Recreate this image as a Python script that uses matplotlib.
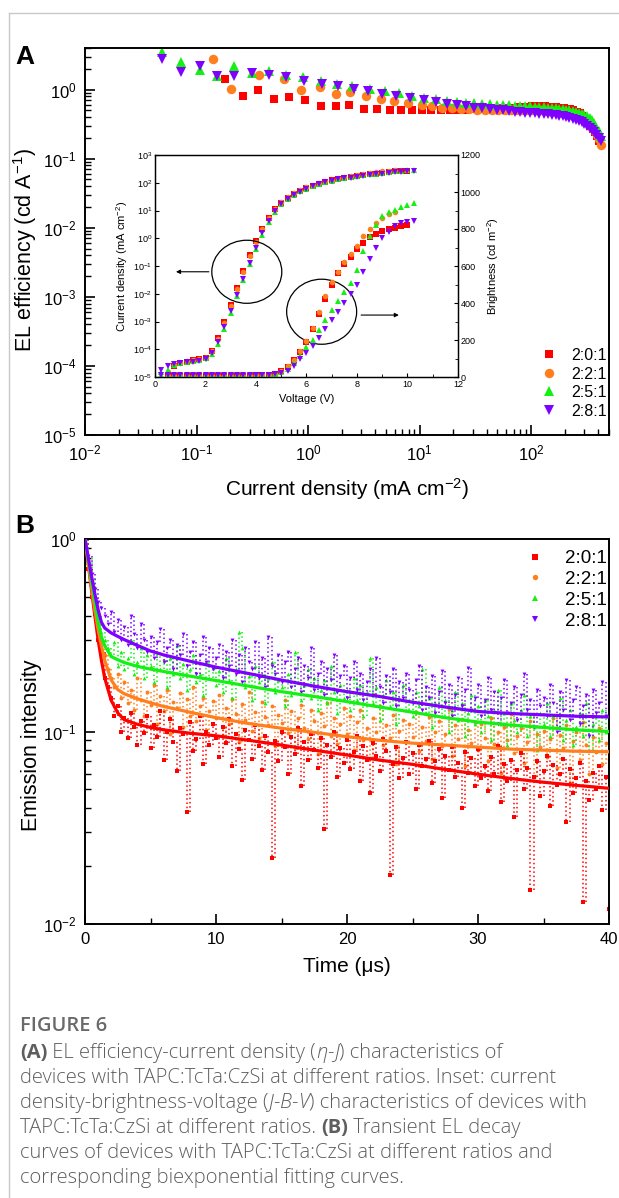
import numpy as np
import matplotlib
matplotlib.use("Agg")
import matplotlib.pyplot as plt
from matplotlib.patches import Ellipse
from matplotlib.lines import Line2D
from matplotlib.ticker import LogLocator, NullFormatter, MultipleLocator

plt.rcParams["font.family"] = ["Liberation Sans", "DejaVu Sans"]
plt.rcParams["mathtext.fontset"] = "custom"
plt.rcParams["mathtext.rm"] = "Liberation Sans"
plt.rcParams["mathtext.it"] = "Liberation Sans:italic"
plt.rcParams["mathtext.bf"] = "Liberation Sans:bold"

W, H = 619, 1198
RATIOS = ["2:0:1", "2:2:1", "2:5:1", "2:8:1"]
COLS = ["#ff0000", "#ff7f1e", "#14f014", "#7f00ff"]
MARKS = ["s", "o", "^", "v"]
MS_A = [6.0, 6.8, 7.6, 7.6]

# ---------------- (A) EL efficiency vs current density ----------------
eff_x_201 = [0.181, 0.259, 0.359, 0.497, 0.678, 0.94, 1.32, 1.78, 2.35, 3.16, 4.17, 5.46, 6.8, 8.55,
             10.5, 12.8, 15.5, 18.6, 22, 26, 30.5, 35.5, 41, 47, 53.5, 60.5, 68, 76, 84.5, 93.5, 103,
             113, 123, 134, 145, 157, 169, 182, 196, 210, 225, 240, 256, 272, 289, 306, 323, 340, 357,
             374, 390, 405]
eff_y_201 = [1.43, 0.80, 0.98, 0.73, 0.77, 0.70, 0.57, 0.57, 0.59, 0.525, 0.525, 0.51, 0.50, 0.50,
             0.50, 0.50, 0.505, 0.51, 0.51, 0.515, 0.52, 0.525, 0.53, 0.535, 0.54, 0.545, 0.55, 0.555,
             0.56, 0.565, 0.57, 0.57, 0.57, 0.57, 0.565, 0.56, 0.555, 0.545, 0.535, 0.525, 0.52, 0.50,
             0.48, 0.455, 0.42, 0.38, 0.34, 0.30, 0.27, 0.24, 0.21, 0.18]
eff_x_221 = [0.141, 0.204, 0.367, 0.61, 0.867, 1.28, 1.78, 2.4, 3.33, 4.55, 5.9, 7.8, 10.5, 13, 16,
             19.5, 23.5, 28, 33, 38.5, 44.5, 51, 58, 65.5, 73.5, 82, 91, 100.5, 110.5, 121, 132, 143.5,
             155.5, 168, 181, 194.5, 208.5, 223, 238, 253.5, 269.5, 286, 303, 320, 337, 354, 371, 388,
             404, 420]
eff_y_221 = [2.78, 1.02, 1.6, 1.43, 1.0, 1.09, 0.875, 0.91, 0.80, 0.72, 0.68, 0.64, 0.59, 0.57, 0.55,
             0.54, 0.53, 0.52, 0.515, 0.51, 0.51, 0.51, 0.51, 0.51, 0.51, 0.51, 0.51, 0.51, 0.505, 0.50,
             0.495, 0.49, 0.485, 0.48, 0.47, 0.46, 0.45, 0.44, 0.43, 0.415, 0.40, 0.38, 0.36, 0.34,
             0.31, 0.28, 0.25, 0.22, 0.19, 0.16]
eff_x_251 = [0.0489, 0.0727, 0.108, 0.153, 0.216, 0.313, 0.451, 0.637, 0.90, 1.31, 1.81, 2.5, 3.6,
             4.9, 6.5, 8.5, 11, 14, 17.5, 21.5, 26, 31, 36.5, 42.5, 49, 56, 63.5, 71.5, 80, 89, 98.5,
             108.5, 119, 130, 141.5, 153.5, 166, 179, 192.5, 206.5, 221, 236, 251.5, 267.5, 284, 301,
             318, 335, 352, 369, 386, 403, 420]
eff_y_251 = [3.47, 2.49, 1.95, 1.56, 2.18, 1.75, 1.84, 1.65, 1.51, 1.35, 1.21, 1.12, 1.02, 0.95, 0.88,
             0.81, 0.76, 0.72, 0.69, 0.665, 0.645, 0.63, 0.62, 0.61, 0.60, 0.595, 0.59, 0.585, 0.58,
             0.575, 0.57, 0.565, 0.56, 0.555, 0.55, 0.545, 0.54, 0.53, 0.52, 0.51, 0.50, 0.49, 0.475,
             0.46, 0.445, 0.43, 0.41, 0.39, 0.36, 0.33, 0.29, 0.25, 0.21]
eff_x_281 = eff_x_251[:8] + [0.918, 1.33, 1.85, 2.57, 3.48, 4.63, 6.16, 8.2] + eff_x_251[16:]
eff_y_281 = [2.78, 1.78, 2.18, 1.56, 1.56, 1.75, 1.65, 1.51, 1.32, 1.21, 1.12, 1.02, 0.95, 0.875,
             0.82, 0.757, 0.70, 0.66, 0.625, 0.595, 0.57, 0.55, 0.535, 0.52, 0.51, 0.50, 0.49, 0.48,
             0.47, 0.465, 0.46, 0.455, 0.45, 0.445, 0.44, 0.435, 0.43, 0.42, 0.41, 0.40, 0.39, 0.38,
             0.365, 0.35, 0.335, 0.32, 0.30, 0.28, 0.26, 0.24, 0.22, 0.20, 0.18]
EFF_X = [eff_x_201, eff_x_221, eff_x_251, eff_x_281]
EFF_Y = [eff_y_201, eff_y_221, eff_y_251, eff_y_281]

# ---------------- inset: J-B-V ----------------
nan = np.nan
volt = [0.25, 0.5, 0.75, 1.0, 1.25, 1.5, 1.75, 2.0, 2.25, 2.5, 2.75, 3.0, 3.25, 3.5, 3.75, 4.0, 4.25,
        4.5, 4.75, 5.0, 5.25, 5.5, 5.75, 6.0, 6.25, 6.5, 6.75, 7.0, 7.25, 7.5, 7.75, 8.0, 8.25, 8.5,
        8.75, 9.0, 9.25, 9.5, 9.75, 10.0, 10.25]
J_201 = [nan, 1.2e-5, 2.5e-5, 3.2e-5, 3.6e-5, 4.0e-5, 4.4e-5, 5.0e-5, 9e-5, 2.6e-4, 1.0e-3, 4.0e-3,
         1.6e-2, 6.5e-2, 0.24, 0.8, 2.2, 5.5, 11, 19, 29, 40, 52, 65, 78, 92, 107, 122, 136, 150, 163,
         175, 188, 200, 215, 230, 243, 255, 265, 275, nan]
J_221 = [nan, 1.5e-5, 2.6e-5, 3.3e-5, 3.7e-5, 4.0e-5, 4.3e-5, 4.8e-5, 8.5e-5, 2.4e-4, 9e-4, 3.6e-3,
         1.5e-2, 6e-2, 0.22, 0.75, 2.1, 5.3, 11, 20, 30, 42, 55, 70, 84, 98, 114, 130, 145, 160, 175,
         190, 205, 220, 238, 255, 272, 290, nan, nan, nan]
J_251 = [1.5e-5, 1.8e-5, 2.7e-5, 3.3e-5, 3.6e-5, 3.9e-5, 4.2e-5, 4.7e-5, 7e-5, 1.6e-4, 5.5e-4, 2.1e-3,
         8e-3, 3.2e-2, 0.12, 0.42, 1.35, 4.0, 9.0, 17, 26, 36, 49, 62, 76, 90, 105, 120, 134, 148, 161,
         175, 188, 200, 214, 228, 241, 255, 268, 280, 290]
J_281 = [1.8e-5, 2.4e-5, 2.9e-5, 3.2e-5, 3.4e-5, 3.6e-5, 3.9e-5, 4.4e-5, 7.5e-5, 1.9e-4, 6.5e-4,
         2.4e-3, 9e-3, 3.5e-2, 0.13, 0.45, 1.5, 4.2, 9.5, 17, 26, 36, 48, 62, 75, 88, 103, 118, 131,
         143, 154, 165, 175, 185, 200, 215, 225, 235, 246, 258, 265]
B_201 = [nan, 8, 8, 8, 8, 8, 8, 8, 8, 8, 8, 8, 8, 8, 8, 9, 10, 12, 18, 32, 55, 90, 135, 190, 260, 340,
         420, 500, 560, 610, 650, 690, 725, 755, 775, 790, 800, 808, 815, 821, nan]
B_221 = [nan, 8, 8, 8, 8, 8, 8, 8, 8, 8, 8, 8, 8, 8, 8, 9, 10, 12, 17, 32, 58, 92, 138, 195, 265, 350,
         440, 515, 570, 620, 665, 710, 760, 800, 830, 860, 880, 893, nan, nan, nan]
B_251 = [9, 9, 9, 9, 9, 9, 9, 9, 9, 9, 9, 9, 9, 9, 9, 10, 11, 12, 16, 25, 45, 75, 115, 160, 200, 255,
         310, 360, 410, 460, 510, 580, 680, 760, 820, 870, 890, 905, 920, 930, 940]
B_281 = [10, 9, 9, 9, 9, 9, 9, 9, 9, 9, 9, 9, 9, 9, 9, 10, 10, 11, 14, 20, 35, 60, 95, 130, 170, 210,
         260, 310, 350, 400, 450, 500, 570, 640, 700, 750, 785, 815, 830, 838, 842]
J_ALL = [J_201, J_221, J_251, J_281]
B_ALL = [B_201, B_221, B_251, B_281]

# ---------------- (B) transient EL decay ----------------
T_STEP = 0.25  # us, sampling interval of the decay traces
decay_201 = [1.0, 0.70, 0.50, 0.41, 0.30, 0.26, 0.19, 0.17, 0.15, 0.12, 0.135, 0.10, 0.118, 0.092, 0.125, 0.105, 0.085, 0.113, 0.098, 0.121,
             0.082, 0.108, 0.094, 0.128, 0.071, 0.100, 0.116, 0.088, 0.062, 0.104, 0.097, 0.038, 0.112, 0.079, 0.091, 0.120, 0.068, 0.099, 0.085, 0.110,
             0.093, 0.074, 0.105, 0.087, 0.116, 0.066, 0.097, 0.081, 0.056, 0.102, 0.090, 0.072, 0.108, 0.084, 0.063, 0.095, 0.078, 0.022, 0.089, 0.070,
             0.099, 0.083, 0.060, 0.094, 0.076, 0.104, 0.052, 0.088, 0.071, 0.097, 0.080, 0.065, 0.092, 0.031, 0.085, 0.074, 0.100, 0.058, 0.082, 0.069,
             0.090, 0.064, 0.078, 0.095, 0.055, 0.084, 0.071, 0.048, 0.087, 0.075, 0.062, 0.091, 0.079, 0.018, 0.068, 0.083, 0.057, 0.073, 0.088, 0.060,
             0.077, 0.050, 0.085, 0.066, 0.072, 0.089, 0.054, 0.070, 0.081, 0.045, 0.075, 0.063, 0.083, 0.058, 0.069, 0.040, 0.078, 0.061, 0.073, 0.052,
             0.081, 0.057, 0.066, 0.049, 0.074, 0.060, 0.084, 0.043, 0.068, 0.055, 0.071, 0.036, 0.063, 0.077, 0.050, 0.065, 0.015, 0.058, 0.070, 0.046,
             0.062, 0.075, 0.041, 0.067, 0.053, 0.060, 0.072, 0.034, 0.064, 0.048, 0.057, 0.069, 0.013, 0.055, 0.044, 0.061, 0.050, 0.066, 0.039, 0.058,
             0.012]
decay_221 = [1.0, 0.74, 0.57, 0.44, 0.36, 0.30, 0.25, 0.21, 0.19, 0.17, 0.20, 0.15, 0.18, 0.14, 0.165, 0.13, 0.19, 0.145, 0.12, 0.16,
             0.138, 0.175, 0.11, 0.152, 0.128, 0.165, 0.097, 0.143, 0.132, 0.158, 0.105, 0.147, 0.121, 0.170, 0.113, 0.136, 0.150, 0.102, 0.128, 0.144,
             0.118, 0.155, 0.095, 0.133, 0.110, 0.148, 0.124, 0.088, 0.139, 0.115, 0.160, 0.101, 0.127, 0.093, 0.142, 0.119, 0.108, 0.135, 0.084, 0.122,
             0.111, 0.145, 0.098, 0.128, 0.082, 0.117, 0.137, 0.104, 0.091, 0.130, 0.113, 0.076, 0.125, 0.107, 0.140, 0.095, 0.118, 0.086, 0.109, 0.132,
             0.097, 0.120, 0.080, 0.112, 0.129, 0.090, 0.104, 0.073, 0.118, 0.099, 0.135, 0.085, 0.108, 0.093, 0.122, 0.068, 0.101, 0.115, 0.088, 0.110,
             0.094, 0.126, 0.079, 0.105, 0.089, 0.119, 0.072, 0.100, 0.113, 0.084, 0.097, 0.131, 0.075, 0.108, 0.091, 0.116, 0.066, 0.102, 0.087, 0.112,
             0.080, 0.109, 0.093, 0.070, 0.118, 0.086, 0.099, 0.061, 0.106, 0.090, 0.124, 0.077, 0.095, 0.104, 0.069, 0.088, 0.114, 0.058, 0.097, 0.083,
             0.101, 0.074, 0.091, 0.117, 0.065, 0.096, 0.082, 0.108, 0.054, 0.089, 0.099, 0.071, 0.112, 0.085, 0.060, 0.094, 0.078, 0.104, 0.068, 0.087,
             0.072]
decay_251 = [1.0, 0.80, 0.62, 0.50, 0.40, 0.33, 0.30, 0.27, 0.25, 0.29, 0.22, 0.26, 0.21, 0.24, 0.30, 0.20, 0.23, 0.27, 0.19, 0.25,
             0.22, 0.18, 0.26, 0.21, 0.235, 0.17, 0.24, 0.20, 0.28, 0.19, 0.225, 0.165, 0.21, 0.25, 0.18, 0.20, 0.155, 0.23, 0.19, 0.215,
             0.175, 0.205, 0.16, 0.24, 0.185, 0.15, 0.21, 0.33, 0.27, 0.17, 0.195, 0.145, 0.22, 0.18, 0.20, 0.14, 0.19, 0.23, 0.16, 0.185,
             0.17, 0.135, 0.20, 0.155, 0.26, 0.18, 0.145, 0.175, 0.21, 0.15, 0.19, 0.13, 0.165, 0.185, 0.14, 0.22, 0.16, 0.125, 0.175, 0.15,
             0.165, 0.13, 0.19, 0.145, 0.175, 0.12, 0.16, 0.24, 0.14, 0.17, 0.115, 0.155, 0.185, 0.135, 0.16, 0.11, 0.15, 0.175, 0.13, 0.145,
             0.12, 0.16, 0.135, 0.21, 0.125, 0.15, 0.105, 0.14, 0.17, 0.12, 0.145, 0.10, 0.13, 0.16, 0.115, 0.14, 0.095, 0.125, 0.155, 0.11,
             0.135, 0.10, 0.145, 0.12, 0.09, 0.13, 0.165, 0.11, 0.125, 0.085, 0.14, 0.115, 0.10, 0.13, 0.155, 0.095, 0.12, 0.105, 0.08, 0.125,
             0.11, 0.14, 0.095, 0.12, 0.105, 0.15, 0.09, 0.115, 0.13, 0.085, 0.105, 0.125, 0.095, 0.14, 0.08, 0.11, 0.12, 0.09, 0.13, 0.10,
             0.105]
decay_281 = [1.0, 0.82, 0.66, 0.55, 0.47, 0.44, 0.40, 0.36, 0.42, 0.33, 0.38, 0.30, 0.35, 0.28, 0.40, 0.32, 0.27, 0.36, 0.30, 0.26,
             0.31, 0.24, 0.29, 0.34, 0.23, 0.27, 0.30, 0.21, 0.28, 0.25, 0.32, 0.22, 0.26, 0.29, 0.20, 0.25, 0.31, 0.23, 0.27, 0.21,
             0.24, 0.28, 0.19, 0.26, 0.22, 0.30, 0.20, 0.25, 0.18, 0.27, 0.23, 0.21, 0.29, 0.19, 0.24, 0.17, 0.31, 0.22, 0.20, 0.25,
             0.18, 0.23, 0.26, 0.17, 0.21, 0.24, 0.16, 0.22, 0.19, 0.27, 0.165, 0.20, 0.23, 0.155, 0.21, 0.185, 0.25, 0.16, 0.195, 0.22,
             0.15, 0.19, 0.23, 0.165, 0.20, 0.145, 0.18, 0.21, 0.155, 0.24, 0.17, 0.14, 0.195, 0.16, 0.21, 0.135, 0.18, 0.15, 0.20, 0.165,
             0.14, 0.185, 0.22, 0.13, 0.17, 0.15, 0.195, 0.125, 0.16, 0.205, 0.14, 0.175, 0.12, 0.155, 0.19, 0.135, 0.165, 0.215, 0.13, 0.15,
             0.175, 0.12, 0.145, 0.19, 0.13, 0.16, 0.11, 0.15, 0.185, 0.125, 0.14, 0.17, 0.115, 0.155, 0.20, 0.13, 0.145, 0.105, 0.165, 0.135,
             0.15, 0.12, 0.175, 0.14, 0.10, 0.16, 0.13, 0.185, 0.115, 0.145, 0.17, 0.11, 0.135, 0.155, 0.095, 0.165, 0.125, 0.14, 0.18, 0.12,
             0.13]
DECAY = [decay_201, decay_221, decay_251, decay_281]

fit_t = [0, 0.25, 0.5, 0.75, 1.0, 1.25, 1.5, 2.0, 2.5, 3, 4, 5, 6, 8, 10, 12.5, 15, 17.5, 20, 22.5, 25,
         27.5, 30, 32.5, 35, 37.5, 40]
fit_201 = [1.0, 0.74, 0.54, 0.40, 0.30, 0.235, 0.19, 0.145, 0.125, 0.115, 0.109, 0.105, 0.102, 0.098,
           0.095, 0.090, 0.085, 0.080, 0.0755, 0.071, 0.0675, 0.0635, 0.060, 0.057, 0.0545, 0.0525, 0.0507]
fit_221 = [1.0, 0.75, 0.56, 0.43, 0.34, 0.28, 0.235, 0.185, 0.165, 0.157, 0.148, 0.141, 0.135, 0.126,
           0.118, 0.110, 0.104, 0.099, 0.094, 0.090, 0.087, 0.085, 0.083, 0.081, 0.080, 0.079, 0.0785]
fit_251 = [1.0, 0.78, 0.60, 0.47, 0.37, 0.31, 0.28, 0.245, 0.236, 0.228, 0.218, 0.211, 0.205, 0.194,
           0.184, 0.172, 0.161, 0.152, 0.143, 0.134, 0.126, 0.118, 0.112, 0.108, 0.105, 0.102, 0.100]
fit_281 = [1.0, 0.80, 0.64, 0.52, 0.43, 0.37, 0.345, 0.325, 0.312, 0.30, 0.28, 0.262, 0.25, 0.232,
           0.216, 0.20, 0.185, 0.172, 0.161, 0.152, 0.142, 0.134, 0.127, 0.124, 0.122, 0.120, 0.119]
FITS = [fit_201, fit_221, fit_251, fit_281]

fig = plt.figure(figsize=(W / 100, H / 100), dpi=100)

def px_axes(l, t, r, b):
    return fig.add_axes([l / W, 1 - b / H, (r - l) / W, (b - t) / H])

def style_spines(ax, lw):
    for s in ax.spines.values():
        s.set_linewidth(lw)

# page frame lines
fig.add_artist(Line2D([9 / W, 9 / W], [0, 1 - 13 / H], transform=fig.transFigure, color="#c8c8c8", lw=1))
fig.add_artist(Line2D([9 / W, 1], [1 - 13 / H, 1 - 13 / H], transform=fig.transFigure, color="#c8c8c8", lw=1))

# ---- panel A ----
axA = px_axes(85, 48, 609, 435)
for lab, x, y, c, m, ms in zip(RATIOS, EFF_X, EFF_Y, COLS, MARKS, MS_A):
    axA.plot(x, y, ls="none", marker=m, ms=ms, mfc=c, mec=c, mew=0, label=lab)
axA.set_xscale("log"); axA.set_yscale("log")
axA.set_xlim(1e-2, 500); axA.set_ylim(1e-5, 4)
for axis in (axA.xaxis, axA.yaxis):
    axis.set_major_locator(LogLocator(base=10, numticks=15))
    axis.set_minor_locator(LogLocator(base=10, subs=np.arange(2, 10), numticks=15))
    axis.set_minor_formatter(NullFormatter())
axA.tick_params(which="both", direction="in", top=False, right=False, labelsize=12)
axA.tick_params(which="major", length=7, width=1.2, pad=6)
axA.tick_params(which="minor", length=4, width=1.0)
style_spines(axA, 1.4)
axA.set_ylabel("EL efficiency (cd A$^{-1}$)", fontsize=15.5)
axA.yaxis.set_label_coords(-0.088, 0.478)
axA.set_xlabel("Current density (mA cm$^{-2}$)", fontsize=15, labelpad=9)
axA.legend(loc="upper right", bbox_to_anchor=(607 / W, 1 - 348 / H), bbox_transform=fig.transFigure,
           frameon=False, fontsize=11.5, handlelength=1.0, handletextpad=0.9, labelspacing=0.22,
           borderpad=0, borderaxespad=0)
fig.text(15 / W, 1 - 57 / H, "A", fontsize=19, fontweight="bold", va="center")

# ---- inset ----
axI = px_axes(155, 155, 458, 377)
axI.set_facecolor("white")
axI2 = axI.twinx()
for c, m, j, b in zip(COLS, MARKS, J_ALL, B_ALL):
    axI.plot(volt, j, ls="none", marker=m, ms=4.0, mfc=c, mec=c, mew=0)
    axI2.plot(volt, b, ls="none", marker=m, ms=4.0, mfc=c, mec=c, mew=0)
axI.set_yscale("log"); axI.set_ylim(1e-5, 1e3); axI.set_xlim(0, 12)
axI.yaxis.set_major_locator(LogLocator(base=10, numticks=12))
axI.yaxis.set_minor_locator(LogLocator(base=10, subs=[], numticks=12))
axI.xaxis.set_major_locator(MultipleLocator(2)); axI.xaxis.set_minor_locator(MultipleLocator(1))
axI2.set_ylim(0, 1200)
axI2.yaxis.set_major_locator(MultipleLocator(200)); axI2.yaxis.set_minor_locator(MultipleLocator(100))
for a in (axI, axI2):
    a.tick_params(which="both", direction="in", labelsize=6.5, pad=2)
    a.tick_params(which="major", length=3, width=0.8)
    a.tick_params(which="minor", length=2, width=0.6)
    style_spines(a, 0.9)
axI.tick_params(top=False, right=False)
axI.set_ylabel("Current density (mA cm$^{-2}$)", fontsize=8, labelpad=2)
axI.set_xlabel("Voltage (V)", fontsize=8, labelpad=4)
axI2.set_ylabel("Brightness (cd m$^{-2}$)", fontsize=8, labelpad=3)
for (cx, cy, w, h) in [(0.303, 0.474, 0.231, 0.284), (0.55, 0.294, 0.231, 0.293)]:
    axI.add_patch(Ellipse((cx, cy), w, h, transform=axI.transAxes, fill=False, ec="black", lw=0.9, zorder=5))
axI.annotate("", xy=(0.060, 0.474), xytext=(0.187, 0.474), xycoords="axes fraction",
             arrowprops=dict(arrowstyle="-|>", lw=0.8, color="black", mutation_scale=6))
axI.annotate("", xy=(0.814, 0.279), xytext=(0.671, 0.279), xycoords="axes fraction",
             arrowprops=dict(arrowstyle="-|>", lw=0.8, color="black", mutation_scale=6))

# ---- panel B ----
axB = px_axes(85, 539, 609, 924)
order = [1, 0, 2, 3]
for i in order:
    d = np.asarray(DECAY[i])
    t = np.arange(len(d)) * T_STEP
    # noisy trace: dotted vertical streaks between consecutive samples + sample markers
    axB.vlines(t[1:], d[:-1], d[1:], colors=COLS[i], linestyles=(0, (1, 1.8)), lw=1.1, zorder=2)
    axB.plot(t, d, ls="none", marker=MARKS[i], ms=2.8, mfc=COLS[i], mec=COLS[i], mew=0,
             label=RATIOS[i], zorder=2)
for i in range(4):
    axB.plot(fit_t, FITS[i], color=COLS[i], lw=2.3, zorder=3)
axB.set_yscale("log"); axB.set_ylim(1e-2, 1); axB.set_xlim(0, 40)
axB.yaxis.set_major_locator(LogLocator(base=10, numticks=10))
axB.yaxis.set_minor_locator(LogLocator(base=10, subs=np.arange(2, 10), numticks=10))
axB.yaxis.set_minor_formatter(NullFormatter())
axB.xaxis.set_major_locator(MultipleLocator(10)); axB.xaxis.set_minor_locator(MultipleLocator(5))
axB.tick_params(which="both", direction="in", top=False, right=False, labelsize=12)
axB.tick_params(which="major", length=7, width=1.2, pad=6)
axB.tick_params(which="minor", length=4, width=1.0)
style_spines(axB, 1.4)
axB.set_ylabel("Emission intensity", fontsize=15.5)
axB.yaxis.set_label_coords(-0.082, 0.465)
axB.set_xlabel("Time (μs)", fontsize=15, labelpad=7)
h, l = axB.get_legend_handles_labels()
idx = [l.index(r) for r in RATIOS]
axB.legend([h[k] for k in idx], [l[k] for k in idx], loc="upper right",
           bbox_to_anchor=(607 / W, 1 - 550 / H), bbox_transform=fig.transFigure, frameon=False,
           fontsize=13.5, handlelength=1.2, handletextpad=1.0, labelspacing=0.2, borderpad=0,
           borderaxespad=0, markerscale=1.4)
fig.text(15 / W, 1 - 526 / H, "B", fontsize=19, fontweight="bold", va="center")

# ---- caption ----
CAP = "#5e5e5e"
rend = fig.canvas.get_renderer()

def caption_line(y, runs, x0=20, size=14.5):
    x = x0
    for txt, kw in runs:
        t = fig.text(x / W, 1 - y / H, txt, fontsize=size, va="baseline", family="Open Sans",
                     color=kw.get("color", CAP), fontweight=kw.get("weight", "light"),
                     fontstyle=kw.get("style", "normal"))
        x += t.get_window_extent(renderer=rend).width

N, BO, IT = {}, {"weight": "bold"}, {"style": "italic"}
caption_line(1031, [("FIGURE 6", {"weight": "semibold", "color": "#6a6a6a"})], size=14.5)
caption_line(1058, [("(A)", BO), (" EL efficiency-current density (", N), ("η", IT), ("-", N), ("J", IT),
                    (") characteristics of", N)])
caption_line(1083, [("devices with TAPC:TcTa:CzSi at different ratios. Inset: current", N)])
caption_line(1108, [("density-brightness-voltage (", N), ("J", IT), ("-", N), ("B", IT), ("-", N), ("V", IT),
                    (") characteristics of devices with", N)])
caption_line(1133, [("TAPC:TcTa:CzSi at different ratios. ", N), ("(B)", BO), (" Transient EL decay", N)])
caption_line(1158, [("curves of devices with TAPC:TcTa:CzSi at different ratios and", N)])
caption_line(1183, [("corresponding biexponential fitting curves.", N)])

fig.savefig("out.png", dpi=100)
